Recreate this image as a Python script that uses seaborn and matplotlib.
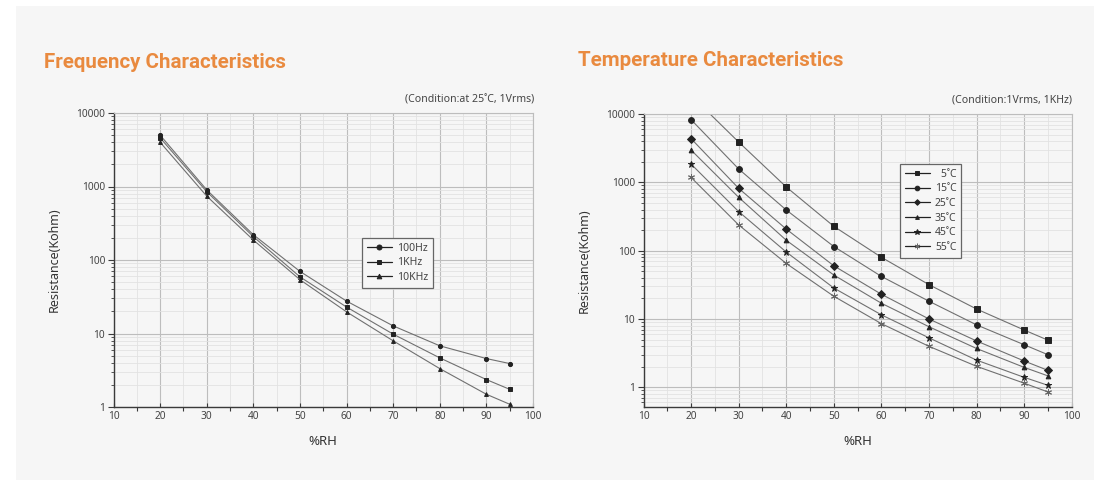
import numpy as np
import pandas as pd
import matplotlib
matplotlib.use("Agg")
import matplotlib.pyplot as plt
from matplotlib.patches import Rectangle
from matplotlib.ticker import FixedLocator, FixedFormatter, LogLocator, NullFormatter
import seaborn as sns

# ---- data -------------------------------------------------------------
rh = [20, 30, 40, 50, 60, 70, 80, 90, 95]

freq_labels = ["100Hz", "1KHz", "10KHz"]
r_100hz = [5000, 900, 221, 70, 27.6, 12.7, 6.8, 4.56, 3.9]
r_1khz = [4600, 850, 208, 59, 22.9, 9.8, 4.66, 2.36, 1.74]
r_10khz = [4000, 740, 187, 54, 19.7, 7.95, 3.33, 1.49, 1.09]

temp_labels = ["\u20075\u02daC", "15\u02daC", "25\u02daC", "35\u02daC", "45\u02daC", "55\u02daC"]
r_5c = [18700, 3890, 855, 227, 80, 31.8, 14, 6.9, 4.9]
r_15c = [8260, 1570, 394, 115, 42, 18.2, 8.2, 4.2, 3.0]
r_25c = [4360, 817, 207, 60, 23, 10, 4.77, 2.43, 1.77]
r_35c = [2970, 603, 142, 44, 17, 7.7, 3.7, 1.96, 1.47]
r_45c = [1850, 373, 95.5, 28.4, 11.5, 5.3, 2.5, 1.4, 1.07]
r_55c = [1180, 238, 65, 21.5, 8.55, 3.98, 2.03, 1.15, 0.855]

x_ticks = [10, 20, 30, 40, 50, 60, 70, 80, 90, 100]
y_ticks = [1, 10, 100, 1000, 10000]
y_tick_labels = ["1", "10", "100", "1000", "10000"]

freq_df = pd.DataFrame({
    "rh": rh * 3,
    "r": r_100hz + r_1khz + r_10khz,
    "series": [s for s in freq_labels for _ in rh],
})
temp_df = pd.DataFrame({
    "rh": rh * 6,
    "r": r_5c + r_15c + r_25c + r_35c + r_45c + r_55c,
    "series": [s for s in temp_labels for _ in rh],
})

# ---- style ------------------------------------------------------------
sns.set_style("ticks")
plt.rcParams["font.family"] = ["Noto Sans", "DejaVu Sans"]

W, H = 1094, 480
BG = "#f6f6f6"
LINE = "#707070"
MARK = "#222222"
ORANGE = "#e98a3f"
TEXT = "#444444"

fig = plt.figure(figsize=(W / 100, H / 100), dpi=100, facecolor="white")
fig.patches.append(Rectangle((16 / W, 0), 1 - 16 / W, 1 - 6 / H,
                             transform=fig.transFigure, facecolor=BG,
                             edgecolor="none", zorder=-10))


def px_box(x0, y0, x1, y1):
    return [x0 / W, 1 - y1 / H, (x1 - x0) / W, (y1 - y0) / H]


def style_axes(ax, ymin):
    ax.set_facecolor(BG)
    ax.set_yscale("log")
    ax.set_xlim(10, 100)
    ax.set_ylim(ymin, 10000)
    ax.xaxis.set_major_locator(FixedLocator(x_ticks))
    ax.xaxis.set_minor_locator(FixedLocator([15, 25, 35, 45, 55, 65, 75, 85, 95]))
    ax.yaxis.set_major_locator(FixedLocator(y_ticks))
    ax.yaxis.set_major_formatter(FixedFormatter(y_tick_labels))
    ax.yaxis.set_minor_locator(LogLocator(base=10, subs=np.arange(2, 10), numticks=20))
    ax.yaxis.set_minor_formatter(NullFormatter())
    ax.grid(which="major", color="#bdbdbd", lw=0.8)
    ax.grid(which="minor", color="#e2e2e2", lw=0.6)
    ax.set_axisbelow(True)
    for side in ("top", "right"):
        ax.spines[side].set_color("#bdbdbd")
        ax.spines[side].set_linewidth(0.8)
    for side in ("left", "bottom"):
        ax.spines[side].set_color("#3a3a3a")
        ax.spines[side].set_linewidth(1.0)
    ax.tick_params(axis="x", which="major", direction="in", length=3,
                   color="#3a3a3a", labelsize=7.3, labelcolor=TEXT, pad=3)
    ax.tick_params(axis="x", which="minor", direction="out", length=3,
                   color="#3a3a3a", width=0.8)
    ax.tick_params(axis="y", which="major", direction="out", length=4,
                   color="#3a3a3a", labelsize=7.3, labelcolor=TEXT, pad=2)
    ax.tick_params(axis="y", which="minor", direction="out", length=2.5,
                   color="#3a3a3a", width=0.6)
    ax.set_xlabel("%RH", fontsize=9.5, color="#333333", labelpad=9)
    ax.set_ylabel("Resistance(Kohm)", fontsize=9, color="#333333", labelpad=11)


def draw_series(ax, df, labels, markers, sizes, colors):
    handles = []
    for lab, m, ms, c in zip(labels, markers, sizes, colors):
        sub = df[df["series"] == lab]
        sns.lineplot(data=sub, x="rh", y="r", ax=ax, color=LINE, lw=0.8,
                     marker=m, markersize=ms, markerfacecolor=c,
                     markeredgecolor=c, markeredgewidth=0.7, legend=False)
        handles.append(ax.lines[-1])
    return handles


def add_legend(ax, handles, labels, x0, y0, mscale):
    leg = ax.legend(handles, labels, loc="upper left",
                    bbox_to_anchor=(x0 / W, 1 - y0 / H),
                    bbox_transform=fig.transFigure, frameon=True,
                    fancybox=False, edgecolor="#666666", facecolor=BG,
                    framealpha=1, fontsize=7.5, handlelength=2.4,
                    handletextpad=0.5, borderpad=0.45, labelspacing=0.35,
                    borderaxespad=0, markerscale=mscale)
    leg.get_frame().set_linewidth(0.9)
    for t in leg.get_texts():
        t.set_color(TEXT)
    for h in leg.legend_handles:
        h.set_color("#222222")
        h.set_linewidth(0.9)
    return leg


# ---- frequency characteristics ---------------------------------------
ax1 = fig.add_axes(px_box(113.5, 113, 533, 407))
style_axes(ax1, 1)
h1 = draw_series(ax1, freq_df, freq_labels, ["o", "s", "^"],
                 [3.0, 3.0, 2.8], [MARK, MARK, MARK])
add_legend(ax1, h1, freq_labels, 362, 238, 1.2)

# ---- temperature characteristics -------------------------------------
ax2 = fig.add_axes(px_box(643.5, 114, 1071.7, 407))
style_axes(ax2, 0.515)
h2 = draw_series(ax2, temp_df, temp_labels,
                 ["s", "o", "D", "^", "*", (6, 2, 0)],
                 [4.0, 4.2, 3.6, 3.4, 5.0, 5.0],
                 [MARK, MARK, MARK, MARK, MARK, "#666666"])
add_legend(ax2, h2, temp_labels, 900, 164, 0.8)

# ---- titles and notes -------------------------------------------------
fig.text(44 / W, 1 - 63 / H, "Frequency Characteristics", fontsize=14.8,
         fontweight="bold", family=["Roboto", "DejaVu Sans"], color=ORANGE,
         ha="left", va="center")
fig.text(578 / W, 1 - 60 / H, "Temperature Characteristics", fontsize=14.8,
         fontweight="bold", family=["Roboto", "DejaVu Sans"], color=ORANGE,
         ha="left", va="center")
fig.text(534 / W, 1 - 100 / H, "(Condition:at 25\u02daC, 1Vrms)", fontsize=7.6,
         color=TEXT, ha="right", va="center")
fig.text(1072 / W, 1 - 100 / H, "(Condition:1Vrms, 1KHz)", fontsize=7.6,
         color=TEXT, ha="right", va="center")

fig.savefig("out.png", dpi=100, facecolor="white")
